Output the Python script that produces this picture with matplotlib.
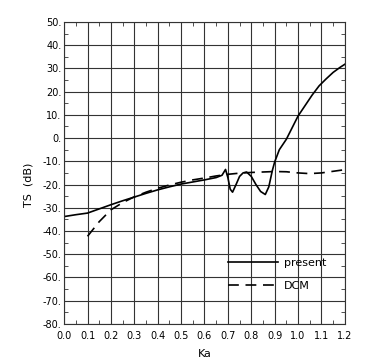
import matplotlib
matplotlib.use("Agg")
import matplotlib.pyplot as plt
from matplotlib.ticker import MultipleLocator, FuncFormatter

# present method
ka_present = [0.0, 0.05, 0.1, 0.15, 0.2, 0.25, 0.3, 0.35, 0.4, 0.45, 0.5, 0.55,
              0.6, 0.65, 0.675, 0.69, 0.70, 0.71, 0.72, 0.735, 0.75, 0.765, 0.78,
              0.80, 0.82, 0.84, 0.86, 0.875, 0.89, 0.90, 0.92, 0.95, 0.97, 1.0,
              1.03, 1.06, 1.09, 1.12, 1.15, 1.18, 1.2]
ts_present = [-33.8, -33.0, -32.3, -30.5, -28.7, -27.0, -25.4, -23.8, -22.3, -21.0,
              -19.8, -18.9, -18.0, -17.0, -16.0, -13.5, -17.0, -22.0, -23.3, -20.0,
              -16.5, -15.0, -14.6, -16.5, -20.0, -23.0, -24.3, -21.0, -14.0, -10.3,
              -5.0, -0.5, 3.5, 9.5, 14.0, 18.5, 22.5, 25.5, 28.3, 30.5, 31.8]

# DCM
ka_dcm = [0.1, 0.15, 0.2, 0.25, 0.3, 0.35, 0.4, 0.45, 0.5, 0.55, 0.6, 0.65, 0.7,
          0.75, 0.8, 0.85, 0.9, 0.95, 1.0, 1.05, 1.1, 1.15, 1.2]
ts_dcm = [-42.3, -36.0, -30.9, -27.8, -25.3, -23.3, -21.6, -20.2, -19.0, -18.0,
          -17.2, -16.3, -15.6, -15.1, -14.8, -14.6, -14.4, -14.5, -15.0, -15.3,
          -15.0, -14.3, -13.6]

fig = plt.figure(figsize=(3.84, 3.61), dpi=100)
ax = fig.add_axes([0.167, 0.103, 0.731, 0.836])

ax.plot(ka_present, ts_present, color="black", lw=1.2, label="present")
ax.plot(ka_dcm, ts_dcm, color="black", lw=1.2, dashes=(6.5, 4), label="DCM")

ax.set_xlim(0, 1.2)
ax.set_ylim(-80, 50)
ax.xaxis.set_major_locator(MultipleLocator(0.1))
ax.xaxis.set_minor_locator(MultipleLocator(0.05))
ax.yaxis.set_major_locator(MultipleLocator(10))
ax.yaxis.set_minor_locator(MultipleLocator(5))
ax.xaxis.set_major_formatter(FuncFormatter(lambda v, p: f"{v:.1f}"))
ax.yaxis.set_major_formatter(FuncFormatter(lambda v, p: f"{v:.0f}."))
ax.grid(True, which="major", color="#333333", lw=0.8)
ax.tick_params(which="both", direction="in", top=True, right=True,
               labelsize=7, color="#333333")
ax.tick_params(which="major", length=0, pad=2)
ax.tick_params(axis="x", which="major", pad=5)
ax.tick_params(which="minor", length=3)
for s in ax.spines.values():
    s.set_color("#333333")
    s.set_linewidth(0.8)

ax.set_xlabel("Ka", fontsize=8, labelpad=6)
ax.set_ylabel("TS  (dB)", fontsize=8, labelpad=2)
ax.yaxis.set_label_coords(-0.11, 0.46)

ax.legend(loc="lower right", bbox_to_anchor=(0.97, 0.075), frameon=False,
          fontsize=8, handlelength=4.5, labelspacing=1.2, handletextpad=0.5)

plt.savefig("out.png", dpi=100)
